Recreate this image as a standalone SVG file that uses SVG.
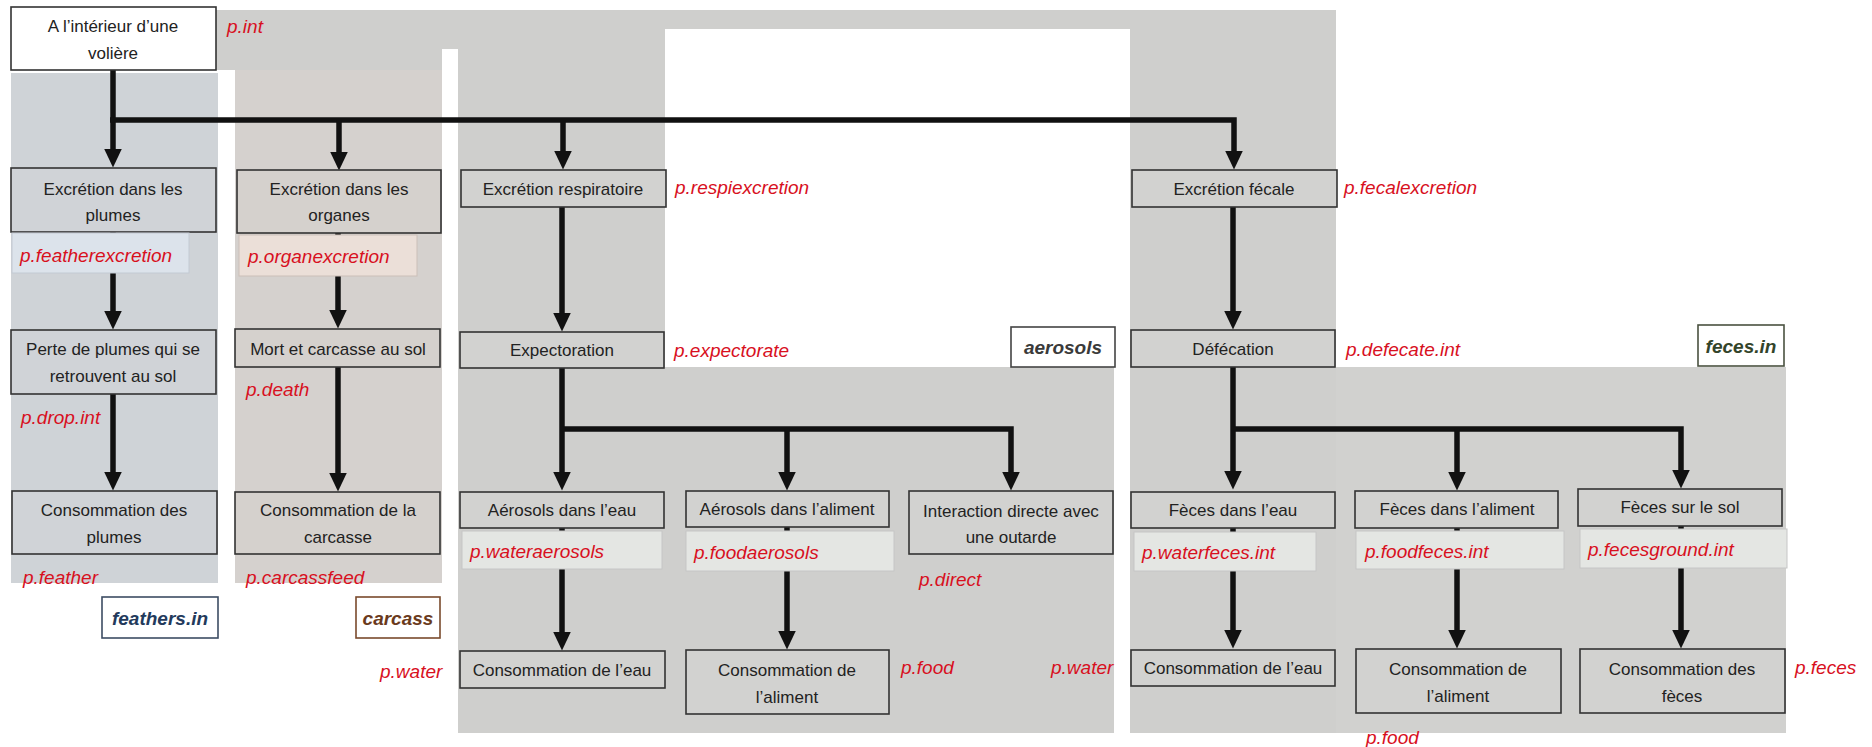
<svg xmlns="http://www.w3.org/2000/svg" width="1872" height="747" viewBox="0 0 1872 747">
<defs>
<style>
.t{font-family:'Liberation Sans',Arial,sans-serif;font-size:17px;fill:#222;text-anchor:middle}
.lbl{font-family:'Liberation Sans',Arial,sans-serif;font-size:19px;font-style:italic;fill:#d8101e}
.tagt{font-family:'Liberation Sans',Arial,sans-serif;font-size:19px;font-style:italic;font-weight:bold;text-anchor:middle}
.box{stroke:#333;stroke-width:1.6}
.g{fill:#d2d2d0}
.gf{fill:#d0d3d7}
.gc{fill:#d5d1cd}
.pale{fill:#e4e6e3;stroke:#c6c6c6;stroke-width:1}
.conn path{stroke:#111;stroke-width:5.5;fill:none;marker-end:url(#ah)}
</style>
<marker id="ah" markerUnits="userSpaceOnUse" markerWidth="20" markerHeight="20" viewBox="0 0 20 20" refX="0.5" refY="10" orient="auto">
<path d="M0,1 L19,10 L0,19 z" fill="#111"/>
</marker>
</defs>
<rect width="1872" height="747" fill="#fff"/>
<g id="background">
<path d="M216,10 H1336 V733 H1130 V29 H665 V367 H1114 V733 H458 V49 H442 V70 H216 Z" fill="#cfcfcd"/>
<rect x="1336" y="367" width="450" height="366" fill="#d1d1cf"/>
<rect x="235" y="70" width="207" height="513" fill="#d5d1ce"/>
<rect x="11" y="73" width="207" height="510" fill="#cfd3d7"/>
</g>
<g class="conn" id="connectors">
<path d="M113,70 V149"/>
<path d="M110,120 H1234 V151"/>
<path d="M339,120 V152"/>
<path d="M563,120 V151"/>
<path d="M113,232 V311"/>
<path d="M113,394 V472"/>
<path d="M338,233 V310"/>
<path d="M338,367 V473"/>
<path d="M562,207 V313"/>
<path d="M562,368 V472"/>
<path d="M562,429 H1011 V472"/>
<path d="M787,429 V472"/>
<path d="M562,528 V632"/>
<path d="M787,527 V631"/>
<path d="M1233,207 V311"/>
<path d="M1233,367 V471"/>
<path d="M1233,429 H1681 V470"/>
<path d="M1457,429 V472"/>
<path d="M1233,528 V630"/>
<path d="M1457,528 V630"/>
<path d="M1681,526 V630"/>
</g>
<g id="n-top"><rect class="box" x="11" y="7" width="205" height="63" fill="#fff"/><text class="t" x="113" y="32">A l’intérieur d’une</text><text class="t" x="113" y="59">volière</text></g>
<g id="l-int"><text class="lbl" x="227" y="33">p.int</text></g>

<g id="n-feather-exc"><rect class="box gf" x="11" y="168" width="205" height="64"/><text class="t" x="113" y="195">Excrétion dans les</text><text class="t" x="113" y="221">plumes</text></g>
<g id="l-featherexcretion"><rect x="12" y="233" width="177" height="40" fill="#dce3eb" stroke="#c3cad3"/><text class="lbl" x="20" y="262">p.featherexcretion</text></g>
<g id="n-feather-drop"><rect class="box gf" x="11" y="330" width="205" height="64"/><text class="t" x="113" y="355">Perte de plumes qui se</text><text class="t" x="113" y="382">retrouvent au sol</text></g>
<g id="l-drop"><text class="lbl" x="21" y="424">p.drop.int</text></g>
<g id="n-feather-cons"><rect class="box gf" x="12" y="491" width="205" height="63"/><text class="t" x="114" y="516">Consommation des</text><text class="t" x="114" y="543">plumes</text></g>
<g id="l-feather"><text class="lbl" x="23" y="584">p.feather</text></g>
<g id="tag-feathers"><rect x="102" y="597" width="116" height="41" fill="#fff" stroke="#3d4d63" stroke-width="1.6"/><text class="tagt" x="160" y="625" fill="#233a5c">feathers.in</text></g>

<g id="n-organ-exc"><rect class="box gc" x="237" y="170" width="204" height="63"/><text class="t" x="339" y="195">Excrétion dans les</text><text class="t" x="339" y="221">organes</text></g>
<g id="l-organexcretion"><rect x="239" y="235" width="178" height="41" fill="#ebdfd8" stroke="#cbbfb8"/><text class="lbl" x="248" y="263">p.organexcretion</text></g>
<g id="n-death"><rect class="box gc" x="235" y="329" width="205" height="38"/><text class="t" x="338" y="355">Mort et carcasse au sol</text></g>
<g id="l-death"><text class="lbl" x="246" y="396">p.death</text></g>
<g id="n-carcass-cons"><rect class="box gc" x="235" y="492" width="205" height="62"/><text class="t" x="338" y="516">Consommation de la</text><text class="t" x="338" y="543">carcasse</text></g>
<g id="l-carcassfeed"><text class="lbl" x="246" y="584">p.carcassfeed</text></g>
<g id="tag-carcass"><rect x="356" y="597" width="84" height="41" fill="#fff" stroke="#7a4a2c" stroke-width="1.6"/><text class="tagt" x="398" y="625" fill="#6a3a1c">carcass</text></g>

<g id="n-resp"><rect class="box g" x="461" y="170" width="205" height="37"/><text class="t" x="563" y="195">Excrétion respiratoire</text></g>
<g id="l-respi"><text class="lbl" x="675" y="194">p.respiexcretion</text></g>
<g id="n-expect"><rect class="box g" x="460" y="332" width="204" height="36"/><text class="t" x="562" y="356">Expectoration</text></g>
<g id="l-expect"><text class="lbl" x="674" y="357">p.expectorate</text></g>
<g id="tag-aerosols"><rect x="1011" y="327" width="104" height="40" fill="#fff" stroke="#444" stroke-width="1.6"/><text class="tagt" x="1063" y="354" fill="#3a3a3a">aerosols</text></g>
<g id="n-aer-water"><rect class="box g" x="460" y="492" width="204" height="36"/><text class="t" x="562" y="516">Aérosols dans l’eau</text></g>
<g id="l-wateraerosols"><rect class="pale" x="462" y="531" width="200" height="38"/><text class="lbl" x="470" y="558">p.wateraerosols</text></g>
<g id="n-aer-food"><rect class="box g" x="686" y="491" width="203" height="36"/><text class="t" x="787" y="515">Aérosols dans l’aliment</text></g>
<g id="l-foodaerosols"><rect class="pale" x="686" y="531" width="208" height="40"/><text class="lbl" x="694" y="559">p.foodaerosols</text></g>
<g id="n-direct"><rect class="box g" x="909" y="491" width="204" height="63"/><text class="t" x="1011" y="517">Interaction directe avec</text><text class="t" x="1011" y="543">une outarde</text></g>
<g id="l-direct"><text class="lbl" x="919" y="586">p.direct</text></g>
<g id="n-aer-water-cons"><rect class="box g" x="460" y="651" width="205" height="37"/><text class="t" x="562" y="676">Consommation de l’eau</text></g>
<g id="l-water1"><text class="lbl" x="380" y="678">p.water</text></g>
<g id="n-aer-food-cons"><rect class="box g" x="686" y="650" width="203" height="64"/><text class="t" x="787" y="676">Consommation de</text><text class="t" x="787" y="703">l’aliment</text></g>
<g id="l-food1"><text class="lbl" x="901" y="674">p.food</text></g>
<g id="l-water2"><text class="lbl" x="1051" y="674">p.water</text></g>

<g id="n-fecal"><rect class="box g" x="1132" y="170" width="205" height="37"/><text class="t" x="1234" y="195">Excrétion fécale</text></g>
<g id="l-fecal"><text class="lbl" x="1344" y="194">p.fecalexcretion</text></g>
<g id="n-defec"><rect class="box g" x="1131" y="330" width="204" height="37"/><text class="t" x="1233" y="355">Défécation</text></g>
<g id="l-defec"><text class="lbl" x="1346" y="356">p.defecate.int</text></g>
<g id="tag-feces"><rect x="1698" y="325" width="86" height="41" fill="#fff" stroke="#4a5240" stroke-width="1.6"/><text class="tagt" x="1741" y="353" fill="#33442a">feces.in</text></g>
<g id="n-fec-water"><rect class="box g" x="1131" y="492" width="204" height="36"/><text class="t" x="1233" y="516">Fèces dans l’eau</text></g>
<g id="l-waterfeces"><rect class="pale" x="1134" y="532" width="182" height="39"/><text class="lbl" x="1142" y="559">p.waterfeces.int</text></g>
<g id="n-fec-food"><rect class="box g" x="1355" y="491" width="203" height="37"/><text class="t" x="1457" y="515">Fèces dans l’aliment</text></g>
<g id="l-foodfeces"><rect class="pale" x="1356" y="531" width="208" height="38"/><text class="lbl" x="1365" y="558">p.foodfeces.int</text></g>
<g id="n-fec-ground"><rect class="box g" x="1578" y="489" width="204" height="37"/><text class="t" x="1680" y="513">Fèces sur le sol</text></g>
<g id="l-fecesground"><rect class="pale" x="1580" y="529" width="207" height="39"/><text class="lbl" x="1588" y="556">p.fecesground.int</text></g>
<g id="n-fec-water-cons"><rect class="box g" x="1131" y="650" width="204" height="36"/><text class="t" x="1233" y="674">Consommation de l’eau</text></g>
<g id="n-fec-food-cons"><rect class="box g" x="1356" y="649" width="205" height="64"/><text class="t" x="1458" y="675">Consommation de</text><text class="t" x="1458" y="702">l’aliment</text></g>
<g id="n-fec-cons"><rect class="box g" x="1580" y="649" width="205" height="64"/><text class="t" x="1682" y="675">Consommation des</text><text class="t" x="1682" y="702">fèces</text></g>
<g id="l-feces"><text class="lbl" x="1795" y="674">p.feces</text></g>
<g id="l-food2"><text class="lbl" x="1366" y="744">p.food</text></g>
</svg>
